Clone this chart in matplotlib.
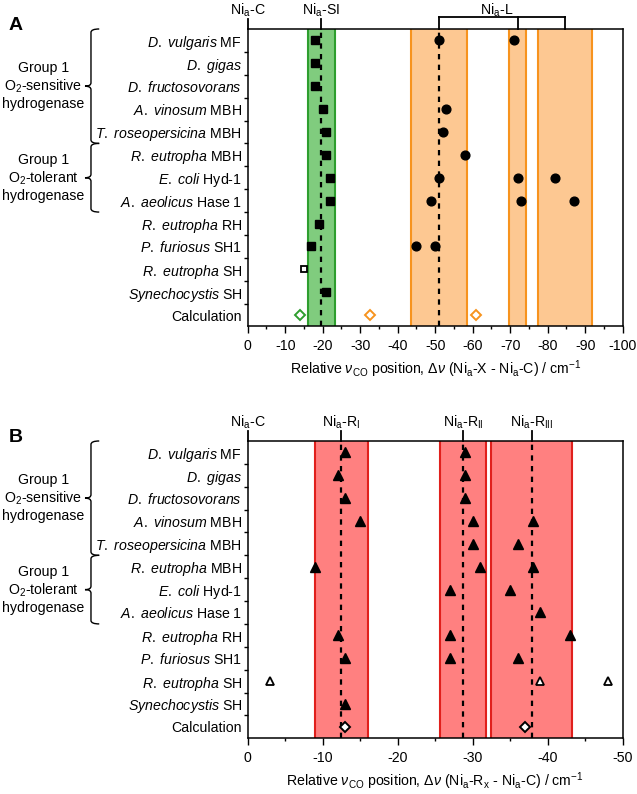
import numpy as np
import matplotlib
matplotlib.use('Agg')
import matplotlib.pyplot as plt
from matplotlib.path import Path
from matplotlib.patches import PathPatch
from matplotlib.transforms import blended_transform_factory
from matplotlib.ticker import MultipleLocator, FixedLocator

plt.rcParams['font.family'] = 'Liberation Sans'
plt.rcParams['mathtext.fontset'] = 'custom'
plt.rcParams['mathtext.rm'] = 'Liberation Sans'
plt.rcParams['mathtext.it'] = 'Liberation Sans:italic'
plt.rcParams['mathtext.bf'] = 'Liberation Sans:bold'
plt.rcParams['axes.unicode_minus'] = False
FS = 10.2
plt.rcParams['font.size'] = FS

# row labels (species in italics + strain suffix)
species = ['D. vulgaris', 'D. gigas', 'D. fructosovorans', 'A. vinosum',
           'T. roseopersicina', 'R. eutropha', 'E. coli', 'A. aeolicus',
           'R. eutropha', 'P. furiosus', 'R. eutropha', 'Synechocystis']
strains = ['MF', '', '', 'MBH', 'MBH', 'MBH', 'Hyd-1', 'Hase 1', 'RH', 'SH1', 'SH', 'SH']

# panel A : Ni_a-SI (squares) and Ni_a-L (circles)
si_rows = [0, 1, 2, 3, 4, 5, 6, 7, 8, 9, 11]
si_vals = [-18, -18, -18, -20, -21, -21, -22, -22, -19, -17, -21]
si_open_rows = [10]
si_open_vals = [-15]
l_rows = [0, 0, 3, 4, 5, 6, 6, 6, 7, 7, 7, 9, 9]
l_vals = [-51, -71, -53, -52, -58, -51, -72, -82, -49, -73, -87, -45, -50]
calc_si = [-14]
calc_l = [-32.5, -61]
si_band = (-16, -23.3)
l_bands = [(-43.5, -58.6), (-69.8, -74.1), (-77.3, -91.8)]

# panel B : Ni_a-R states (triangles)
r1_rows = [0, 1, 2, 3, 5, 8, 9, 11]
r1_vals = [-13, -12, -13, -15, -9, -12, -13, -13]
r2_rows = [0, 1, 2, 3, 4, 5, 6, 8, 9]
r2_vals = [-29, -29, -29, -30, -30, -31, -27, -27, -27]
r3_rows = [3, 4, 5, 6, 7, 8, 9]
r3_vals = [-38, -36, -38, -35, -39, -43, -36]
r_open_rows = [10, 10, 10]
r_open_vals = [-3, -39, -48]
calc_r = [-13, -37]
r_bands = [(-9, -16), (-25.7, -31.8), (-32.5, -43.3)]

GREEN_FC, GREEN_EC = '#80cc7e', '#2e9e2e'
ORANGE_FC, ORANGE_EC = '#fdc892', '#f7931e'
RED_FC, RED_EC = '#ff8080', '#e0201c'

labels = []
for sp, st in zip(species, strains):
    lab = r'$\mathit{' + sp.replace(' ', r'\ ') + '}$'
    if st:
        lab += ' ' + st
    labels.append(lab)
labels.append('Calculation')
n_rows = len(labels)
calc_row = n_rows - 1


def setup_axes(ax, xmax, xlabel):
    ax.set_xlim(0, xmax)
    ax.set_ylim(n_rows - 0.5, -0.5)
    ax.xaxis.set_major_locator(MultipleLocator(10))
    ax.xaxis.set_minor_locator(MultipleLocator(5))
    ticks = [t for t in ax.get_xticks() if xmax <= t <= 0]
    ax.set_xticks(ticks)
    ax.set_xticklabels(['%d' % t for t in ticks])
    ax.set_xlim(0, xmax)
    ax.yaxis.set_major_locator(FixedLocator(range(n_rows)))
    ax.set_yticklabels(labels)
    ax.yaxis.set_minor_locator(FixedLocator(np.arange(0.5, n_rows - 1, 1)))
    ax.tick_params(axis='x', which='major', direction='out', length=5, width=1,
                   labelsize=FS, pad=4)
    ax.tick_params(axis='x', which='minor', direction='out', length=2.5, width=1)
    ax.tick_params(axis='y', which='major', length=0, pad=4, labelsize=FS)
    ax.tick_params(axis='y', which='minor', direction='out', length=3, width=1)
    for sp in ax.spines.values():
        sp.set_linewidth(1.1)
    ax.set_xlabel(xlabel, fontsize=FS, labelpad=4)


def band(ax, lo, hi, fc, ec):
    ax.axvspan(lo, hi, facecolor=fc, edgecolor='none', zorder=0.5)
    ax.axvline(lo, color=ec, lw=1.5, zorder=0.6)
    ax.axvline(hi, color=ec, lw=1.5, zorder=0.6)


def dashed(ax, x):
    ax.axvline(x, color='k', lw=1.6, ls=(0, (2.4, 2.4)), zorder=1)


TOP_Y = 1.047


def top_label(ax, x, text):
    tr = blended_transform_factory(ax.transData, ax.transAxes)
    ax.plot([x, x], [1.0, 1.035], color='k', lw=1.3, transform=tr, clip_on=False)
    ax.text(x, TOP_Y, text, transform=tr, ha='center', va='baseline', fontsize=FS)


def brace(ax, y0, y1, text):
    tr = blended_transform_factory(ax.transAxes, ax.transData)
    xv, xh, xt = -0.418, -0.396, -0.434
    ym = (y0 + y1) / 2
    d = 0.15
    verts = [(xh, y0), (xv, y0), (xv, y0 + d),
             (xv, ym - d), (xv, ym), (xt, ym),
             (xv, ym), (xv, ym + d),
             (xv, y1 - d), (xv, y1), (xh, y1)]
    codes = [Path.MOVETO, Path.CURVE3, Path.CURVE3,
             Path.LINETO, Path.CURVE3, Path.CURVE3,
             Path.CURVE3, Path.CURVE3,
             Path.LINETO, Path.CURVE3, Path.CURVE3]
    ax.add_patch(PathPatch(Path(verts, codes), fill=False, lw=1.0, ec='k',
                           transform=tr, clip_on=False))
    ax.text(-0.545, ym, text, transform=tr, ha='center', va='center',
            fontsize=FS, linespacing=1.2)


def groups(ax):
    brace(ax, -0.5, 4.5, 'Group 1\nO$_2$-sensitive\nhydrogenase')
    brace(ax, 4.5, 7.5, 'Group 1\nO$_2$-tolerant\nhydrogenase')


fig = plt.figure(figsize=(6.37, 7.94), dpi=100)
axA = fig.add_axes([0.3889, 0.5888, 0.5887, 0.3747])
axB = fig.add_axes([0.3889, 0.0702, 0.5887, 0.3744])

# ---------- panel A ----------
band(axA, si_band[0], si_band[1], GREEN_FC, GREEN_EC)
for lo, hi in l_bands:
    band(axA, lo, hi, ORANGE_FC, ORANGE_EC)
si_center = np.mean(si_band)
l_centers = [np.mean(b) for b in l_bands]
dashed(axA, si_center)
dashed(axA, l_centers[0])

axA.plot(si_vals, si_rows, 's', color='k', ms=5.5, zorder=3)
axA.plot(si_open_vals, si_open_rows, 's', mfc='white', mec='k', mew=1.3, ms=4.8, zorder=3)
axA.plot(l_vals, l_rows, 'o', color='k', ms=6.3, zorder=3)
axA.plot(calc_si, [calc_row] * len(calc_si), 'D', mfc='none', mec=GREEN_EC, mew=1.4, ms=5, zorder=3)
axA.plot(calc_l, [calc_row] * len(calc_l), 'D', mfc='none', mec=ORANGE_EC, mew=1.4, ms=5, zorder=3)

setup_axes(axA, -100, r'Relative $\nu_{\mathrm{CO}}$ position, $\Delta\nu$ (Ni$_\mathrm{a}$-X - Ni$_\mathrm{a}$-C) / cm$^{-1}$')
groups(axA)

top_label(axA, 0, 'Ni$_\mathrm{a}$-C')
top_label(axA, si_center, 'Ni$_\mathrm{a}$-SI')
trA = blended_transform_factory(axA.transData, axA.transAxes)
for xc in l_centers:
    axA.plot([xc, xc], [1.0, 1.04], color='k', lw=1.3, transform=trA, clip_on=False)
axA.plot([l_centers[0], l_centers[-1]], [1.04, 1.04], color='k', lw=1.3,
         transform=trA, clip_on=False)
axA.text(np.mean([l_centers[0], l_centers[-1]]) + 1.5, TOP_Y, 'Ni$_\mathrm{a}$-L',
         transform=trA, ha='center', va='baseline', fontsize=FS)

# ---------- panel B ----------
for lo, hi in r_bands:
    band(axB, lo, hi, RED_FC, RED_EC)
r_centers = [np.mean(b) for b in r_bands]
for xc in r_centers:
    dashed(axB, xc)

axB.plot(r1_vals, r1_rows, '^', color='k', ms=7, zorder=3)
axB.plot(r2_vals, r2_rows, '^', color='k', ms=7, zorder=3)
axB.plot(r3_vals, r3_rows, '^', color='k', ms=7, zorder=3)
axB.plot(r_open_vals, r_open_rows, '^', mfc='white', mec='k', mew=1.3, ms=6, zorder=3)
axB.plot(calc_r, [calc_row] * len(calc_r), 'D', mfc='white', mec='k', mew=1.4, ms=5, zorder=3)

setup_axes(axB, -50, r'Relative $\nu_{\mathrm{CO}}$ position, $\Delta\nu$ (Ni$_\mathrm{a}$-R$_\mathrm{x}$ - Ni$_\mathrm{a}$-C) / cm$^{-1}$')
groups(axB)

top_label(axB, 0, 'Ni$_\mathrm{a}$-C')
for xc, name in zip(r_centers, ['I', 'II', 'III']):
    top_label(axB, xc, 'Ni$_\mathrm{a}$-R$_\mathrm{' + name + '}$')

fig.text(16 / 637, 1 - 26 / 794, 'A', fontsize=14, fontweight='bold', ha='center', va='center')
fig.text(16 / 637, 1 - 438 / 794, 'B', fontsize=14, fontweight='bold', ha='center', va='center')

fig.savefig('out.png', dpi=100)
